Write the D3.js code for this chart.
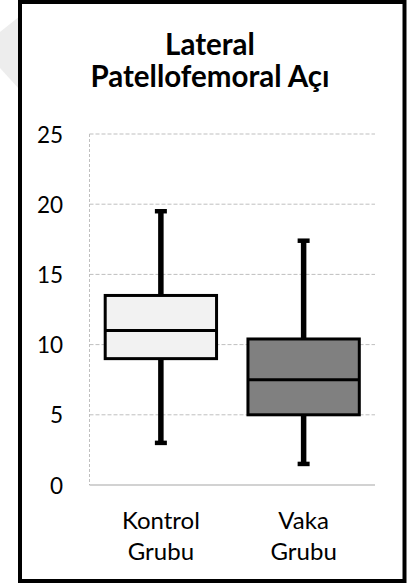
<!DOCTYPE html>
<html>
<head>
<meta charset="utf-8">
<script src="https://cdn.jsdelivr.net/npm/d3@7"></script>
<style>
  html, body { margin: 0; padding: 0; background: #fff; }
  svg { display: block; }
</style>
</head>
<body>
<script>
// Box plot data: lateral patellofemoral angle by group
const groups = ["Kontrol Grubu", "Vaka Grubu"];
const groupLines = [["Kontrol", "Grubu"], ["Vaka", "Grubu"]];
const whiskerLow = [3.0, 1.5];
const q1 = [9.0, 5.0];
const median = [11.0, 7.5];
const q3 = [13.5, 10.4];
const whiskerHigh = [19.5, 17.4];
const boxFill = ["#f2f2f2", "#808080"];
const yTicks = [0, 5, 10, 15, 20, 25];
const titleLines = ["Lateral", "Patellofemoral Açı"];

const W = 414, H = 588;
const svg = d3.select("body").append("svg").attr("width", W).attr("height", H);
svg.append("rect").attr("width", W).attr("height", H).attr("fill", "#fff");

// faint backdrop wedge at the left edge
svg.append("polygon")
  .attr("points", "0,32 20,16 20,90 0,68")
  .attr("fill", "#ededed");

// outer frame
svg.append("rect")
  .attr("x", 20).attr("y", 2).attr("width", 384.5).attr("height", 579)
  .attr("fill", "#fff").attr("stroke", "#000").attr("stroke-width", 4);

const font = "Lato, 'Open Sans', sans-serif";

// title
svg.append("g").selectAll("text").data(titleLines).join("text")
  .attr("x", 210).attr("y", (d, i) => 55 + i * 32)
  .attr("text-anchor", "middle")
  .attr("font-family", font).attr("font-weight", 700).attr("font-size", 29.5)
  .attr("fill", "#000")
  .text(d => d);

const y = d3.scaleLinear().domain([0, 25]).range([485, 134]);
const x = d3.scaleBand().domain(groups).range([89.5, 375])
  .paddingInner(0.22).paddingOuter(0.11);

// horizontal gridlines (dashed)
svg.append("g").selectAll("line").data(yTicks.filter(t => t > 0)).join("line")
  .attr("x1", 89.5).attr("x2", 375)
  .attr("y1", d => y(d)).attr("y2", d => y(d))
  .attr("stroke", "#bfbfbf").attr("stroke-width", 1)
  .attr("stroke-dasharray", "4,2");

// left vertical dashed line
svg.append("line")
  .attr("x1", 89.5).attr("x2", 89.5).attr("y1", y(25)).attr("y2", y(0))
  .attr("stroke", "#bfbfbf").attr("stroke-width", 1)
  .attr("stroke-dasharray", "3,2");

// baseline
svg.append("line")
  .attr("x1", 89.5).attr("x2", 375).attr("y1", y(0)).attr("y2", y(0))
  .attr("stroke", "#a6a6a6").attr("stroke-width", 1.2);

// y axis labels
const yAxis = d3.axisLeft(y).tickValues(yTicks).tickSize(0).tickPadding(0);
const gy = svg.append("g").attr("transform", "translate(63,0)").call(yAxis);
gy.select(".domain").remove();
gy.selectAll("text")
  .attr("font-family", font).attr("font-size", 22.5).attr("fill", "#000")
  .attr("dy", "0.36em");

// x labels
const gx = svg.append("g");
groups.forEach((g, i) => {
  const cx = x(g) + x.bandwidth() / 2;
  gx.append("text")
    .attr("x", cx).attr("text-anchor", "middle")
    .attr("font-family", font).attr("font-size", 24).attr("fill", "#000")
    .selectAll("tspan").data(groupLines[i]).join("tspan")
    .attr("x", cx).attr("y", (d, j) => 529 + j * 31)
    .text(d => d);
});

// boxes and whiskers
const boxes = svg.append("g");
groups.forEach((g, i) => {
  const cx = x(g) + x.bandwidth() / 2;
  const grp = boxes.append("g");
  // whiskers
  grp.append("line")
    .attr("x1", cx).attr("x2", cx).attr("y1", y(q3[i])).attr("y2", y(whiskerHigh[i]))
    .attr("stroke", "#000").attr("stroke-width", 5.5);
  grp.append("line")
    .attr("x1", cx).attr("x2", cx).attr("y1", y(q1[i])).attr("y2", y(whiskerLow[i]))
    .attr("stroke", "#000").attr("stroke-width", 5.5);
  // caps
  [whiskerHigh[i], whiskerLow[i]].forEach(v => {
    grp.append("line")
      .attr("x1", cx - 6).attr("x2", cx + 6).attr("y1", y(v)).attr("y2", y(v))
      .attr("stroke", "#000").attr("stroke-width", 4.5);
  });
  // box
  grp.append("rect")
    .attr("x", x(g)).attr("width", x.bandwidth())
    .attr("y", y(q3[i])).attr("height", y(q1[i]) - y(q3[i]))
    .attr("fill", boxFill[i]).attr("stroke", "#000").attr("stroke-width", 3);
  // median
  grp.append("line")
    .attr("x1", x(g)).attr("x2", x(g) + x.bandwidth())
    .attr("y1", y(median[i])).attr("y2", y(median[i]))
    .attr("stroke", "#000").attr("stroke-width", 3);
});
</script>
</body>
</html>
